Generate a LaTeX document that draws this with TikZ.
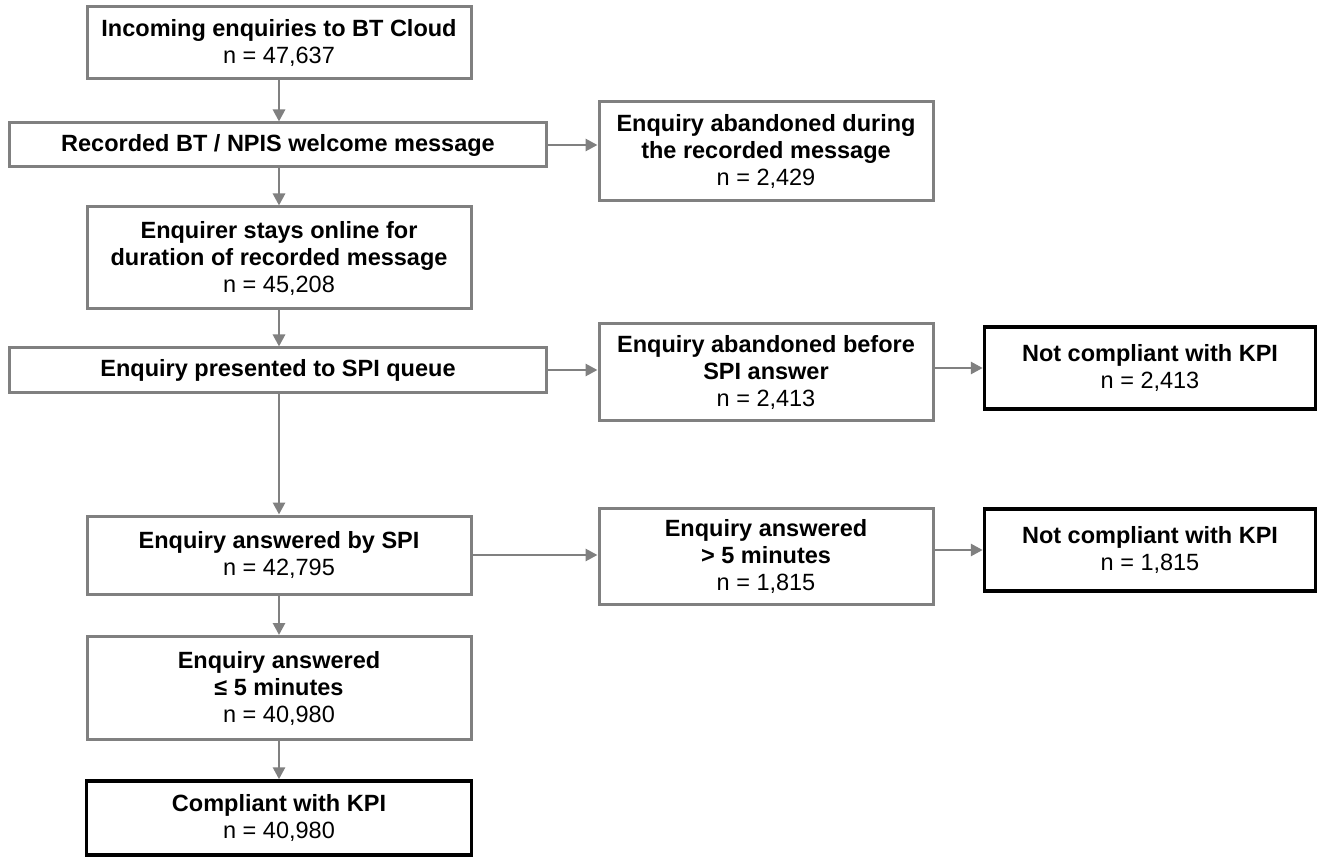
\documentclass[tikz,border=0pt]{standalone}
\usepackage{fontspec}
\setmainfont{Liberation Sans}
\usetikzlibrary{arrows.meta}

\definecolor{BoxGray}{RGB}{128,128,128}

\tikzstyle{StepBox}=[rectangle,draw=BoxGray,line width=3pt,align=center,
  inner sep=0pt,minimum width=384pt,font=\fontsize{23.5}{27}\selectfont]
\tikzstyle{WideBox}=[StepBox,minimum width=537pt]
\tikzstyle{SideBox}=[StepBox,minimum width=334pt]
\tikzstyle{KpiBox}=[StepBox,draw=black,line width=3.5pt,minimum width=331pt]
\tikzstyle{FlowArrow}=[BoxGray,line width=2.8pt,-{Triangle[length=12pt,width=12pt]}]

\begin{document}
\begin{tikzpicture}[x=1pt, y=-1pt]
		\useasboundingbox (0,0) rectangle (1322,858);
		
		% Main column
		\draw(279,43) node[StepBox,minimum height=72pt] (Incoming) {\textbf{Incoming enquiries to BT Cloud}\\n = 47,637};
		\draw(278,145) node[WideBox,minimum height=44pt] (Welcome) {\textbf{Recorded BT / NPIS welcome message}};
		\draw(279,258) node[StepBox,minimum height=102pt] (StaysOnline) {\textbf{Enquirer stays online for}\\\textbf{duration of recorded message}\\n = 45,208};
		\draw(278,370) node[WideBox,minimum height=44pt] (SpiQueue) {\textbf{Enquiry presented to SPI queue}};
		\draw(279,555) node[StepBox,minimum height=78pt] (AnsweredSpi) {\textbf{Enquiry answered by SPI}\\n = 42,795};
		\draw(279,688) node[StepBox,minimum height=103pt] (AnsweredIn) {\textbf{Enquiry answered}\\\textbf{≤ 5 minutes}\\n = 40,980};
		\draw(279,818) node[KpiBox,minimum width=385pt,minimum height=74pt] (Compliant) {\textbf{Compliant with KPI}\\n = 40,980};
		
		% Side branches
		\draw(766,151) node[SideBox,minimum height=99pt] (AbandonMsg) {\textbf{Enquiry abandoned during}\\\textbf{the recorded message}\\n = 2,429};
		\draw(766,372) node[SideBox,minimum height=96pt] (AbandonSpi) {\textbf{Enquiry abandoned before}\\\textbf{SPI answer}\\n = 2,413};
		\draw(766,556) node[SideBox,minimum height=96pt] (AnsweredOver) {\textbf{Enquiry answered}\\\textbf{> 5 minutes}\\n = 1,815};
		\draw(1150,368) node[KpiBox,minimum height=82pt] (NotCompliant1) {\textbf{Not compliant with KPI}\\n = 2,413};
		\draw(1150,550) node[KpiBox,minimum height=82pt] (NotCompliant2) {\textbf{Not compliant with KPI}\\n = 1,815};
		
		% Main column arrows
		\draw[FlowArrow] (Incoming.south) -- (Welcome.north -| Incoming.south);
		\draw[FlowArrow] (Welcome.south -| Incoming.south) -- (StaysOnline.north);
		\draw[FlowArrow] (StaysOnline.south) -- (SpiQueue.north -| StaysOnline.south);
		\draw[FlowArrow] (SpiQueue.south -| StaysOnline.south) -- (AnsweredSpi.north);
		\draw[FlowArrow] (AnsweredSpi.south) -- (AnsweredIn.north);
		\draw[FlowArrow] (AnsweredIn.south) -- (Compliant.north);
		
		% Side arrows
		\draw[FlowArrow] (Welcome.east) -- (Welcome.east -| AbandonMsg.west);
		\draw[FlowArrow] (SpiQueue.east) -- (SpiQueue.east -| AbandonSpi.west);
		\draw[FlowArrow] (AbandonSpi.east |- NotCompliant1.west) -- (NotCompliant1.west);
		\draw[FlowArrow] (AnsweredSpi.east) -- (AnsweredSpi.east -| AnsweredOver.west);
		\draw[FlowArrow] (AnsweredOver.east |- NotCompliant2.west) -- (NotCompliant2.west);
		
	\end{tikzpicture}
\end{document}
